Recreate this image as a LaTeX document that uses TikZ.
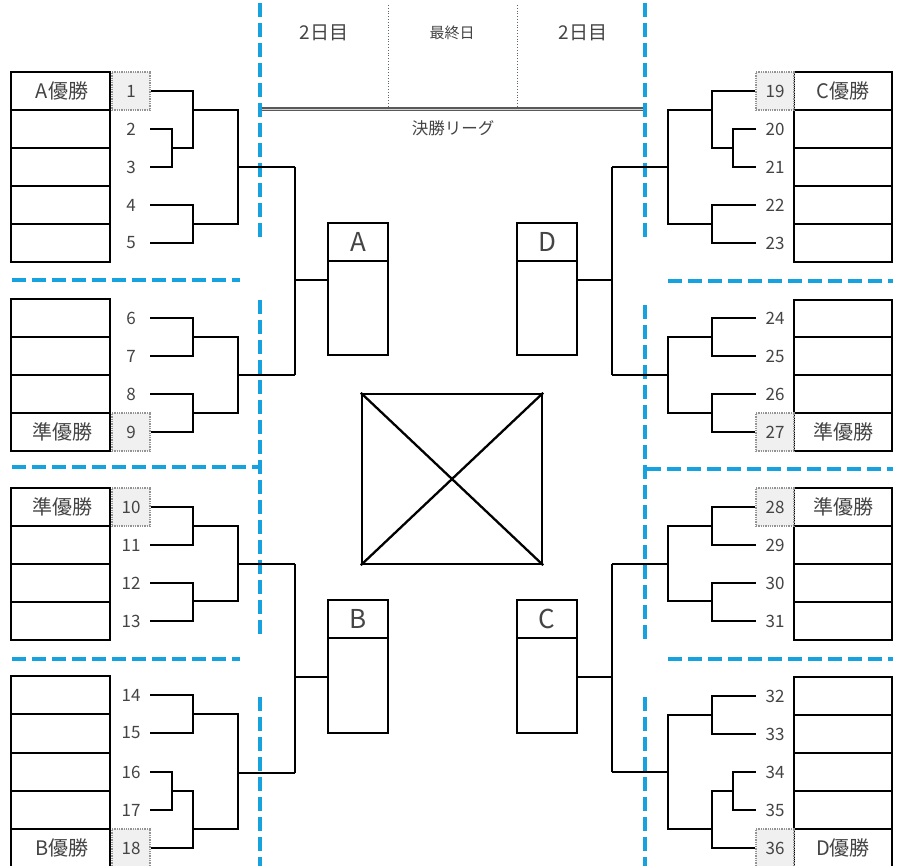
\documentclass[tikz,border=0pt]{standalone}
\usepackage{fontspec}
\setmainfont{Noto Sans CJK JP}
\definecolor{txt}{HTML}{444444}
\definecolor{bdash}{RGB}{22,162,222}
\begin{document}
\begin{tikzpicture}[x=1pt,y=-1pt,
  ln/.style={line width=2.3pt, black},
  nm/.style={minimum width=38pt, minimum height=38pt, inner sep=0pt, font=\fontsize{17}{17}\selectfont, text=txt},
  numshade/.style={nm, fill=gray!12, draw=gray!85, densely dotted, line width=1.3pt},
  lab/.style={font=\fontsize{20}{20}\selectfont, text=txt, inner sep=0pt},
  letter/.style={font=\fontsize{26}{26}\selectfont, text=txt, inner sep=0pt},
  hdr/.style={font=\fontsize{19}{19}\selectfont, text=txt, inner sep=0pt},
  bd/.style={bdash, line width=3.6pt, dash pattern=on 14pt off 6pt},
  grp/.style={ln, draw, minimum width=60pt, inner sep=0pt}
]
\useasboundingbox (0,0) rectangle (901,866);
\fill[white] (0,0) rectangle (901,866);

% ---------- header ----------
\draw[gray!60!cyan!50!black, line width=0.8pt, dotted] (388,5) -- (388,108);
\draw[gray!60!cyan!50!black, line width=0.8pt, dotted] (517,5) -- (517,108);
\draw[draw=gray!70!black, double=gray!35, double distance=1.2pt, line width=1.4pt] (260,109.5) -- (645,109.5);
\node[hdr] (h1) at (324,33) {2日目};
\node[hdr, font=\fontsize{15}{15}\selectfont] (h2) at (452,33) {最終日};
\node[hdr] (h3) at (583,33) {2日目};
\node[hdr, font=\fontsize{16.5}{16.5}\selectfont] (h4) at (453,128) {決勝リーグ};

% ---------- blue dashed separators ----------
\draw[bd] (260,3) -- (260,242);
\draw[bd] (260,300) -- (260,640);
\draw[bd] (260,697) -- (260,866);
\draw[bd] (12,280) -- (240,280);
\draw[bd] (12,467) -- (258,467);
\draw[bd] (12,659) -- (240,659);
\draw[bd] (645,3) -- (645,242);
\draw[bd] (645,305) -- (645,640);
\draw[bd] (645,697) -- (645,866);
\draw[bd] (668,281) -- (893,281);
\draw[bd] (647,469) -- (893,469);
\draw[bd] (668,659) -- (893,659);

% ---------- name boxes ----------
\foreach \t/\b/\ls in {72/262/{110,148,186,224}, 299/451/{337,375,413}, 488/640/{526,564,602}, 676/868/{714,753,791,829}}{
  \draw[ln] (11,\t) rectangle (110,\b);
  \foreach \l in \ls { \draw[ln] (11,\l) -- (110,\l); }
}
\foreach \t/\b/\ls in {72/262/{110,148,186,224}, 300/451/{337,375,413}, 488/640/{526,564,602}, 677/868/{715,753,791,829}}{
  \draw[ln] (794,\t) rectangle (892,\b);
  \foreach \l in \ls { \draw[ln] (794,\l) -- (892,\l); }
}
\node[lab] (la) at (62,91) {A優勝};
\node[lab] (lj1) at (62,432) {準優勝};
\node[lab] (lj2) at (62,507) {準優勝};
\node[lab] (lb) at (62,848) {B優勝};
\node[lab] (lc) at (843,91) {C優勝};
\node[lab] (lj3) at (843,432) {準優勝};
\node[lab] (lj4) at (843,507) {準優勝};
\node[lab] (ld) at (843,848) {D優勝};

% ---------- number nodes ----------
\foreach \n/\y in {2/129,3/167,4/205,5/243,6/318,7/356,8/394,11/545,12/583,13/621,14/695,15/733,16/772,17/810}
  \node[nm] (n\n) at (131,\y) {\n};
\foreach \n/\y in {1/91,9/432,10/507,18/848}
  \node[numshade] (n\n) at (131,\y) {\textcolor{txt}{\n}};
\foreach \n/\y in {20/129,21/167,22/205,23/243,24/318,25/356,26/394,29/545,30/583,31/621,32/696,33/734,34/772,35/810}
  \node[nm] (n\n) at (775,\y) {\n};
\foreach \n/\y in {19/91,27/432,28/507,36/848}
  \node[numshade] (n\n) at (775,\y) {\textcolor{txt}{\n}};

% ---------- left brackets ----------
\draw[ln] (n2.east) -| (172,148) |- (n3.east);
\draw[ln] (n1.east) -| (193,148) -- (172,148);
\draw[ln] (n4.east) -| (193,224) |- (n5.east);
\draw[ln] (193,110) -| (238,167) |- (193,224);
\draw[ln] (238,167) -- (295,167);
\draw[ln] (n6.east) -| (193,337) |- (n7.east);
\draw[ln] (n8.east) -| (193,413) |- (n9.east);
\draw[ln] (193,337) -| (238,375) |- (193,413);
\draw[ln] (238,375) -- (295,375);
\draw[ln] (n10.east) -| (193,526) |- (n11.east);
\draw[ln] (n12.east) -| (193,601) |- (n13.east);
\draw[ln] (193,526) -| (238,564) |- (193,601);
\draw[ln] (238,564) -- (295,564);
\draw[ln] (n14.east) -| (193,714) |- (n15.east);
\draw[ln] (n16.east) -| (172,791) |- (n17.east);
\draw[ln] (n18.east) -| (193,791) -- (172,791);
\draw[ln] (193,714) -| (238,773) |- (193,829);
\draw[ln] (238,773) -- (295,773);

% ---------- right brackets ----------
\draw[ln] (n20.west) -| (733,148) |- (n21.west);
\draw[ln] (n19.west) -| (712,148) -- (733,148);
\draw[ln] (n22.west) -| (712,224) |- (n23.west);
\draw[ln] (712,110) -| (668,167) |- (712,224);
\draw[ln] (668,167) -- (612,167);
\draw[ln] (n24.west) -| (712,337) |- (n25.west);
\draw[ln] (n26.west) -| (712,413) |- (n27.west);
\draw[ln] (712,337) -| (668,375) |- (712,413);
\draw[ln] (668,375) -- (612,375);
\draw[ln] (n28.west) -| (712,526) |- (n29.west);
\draw[ln] (n30.west) -| (712,601) |- (n31.west);
\draw[ln] (712,526) -| (668,564) |- (712,601);
\draw[ln] (668,564) -- (612,564);
\draw[ln] (n32.west) -| (712,715) |- (n33.west);
\draw[ln] (n34.west) -| (733,791) |- (n35.west);
\draw[ln] (n36.west) -| (712,791) -- (733,791);
\draw[ln] (712,715) -| (668,772) |- (712,829);
\draw[ln] (668,772) -- (612,772);

% ---------- group boxes ----------
\node[grp, minimum height=132pt] (A) at (358,289) {};
\node[grp, minimum height=132pt] (D) at (547,289) {};
\node[grp, minimum height=133pt] (B) at (358,666.5) {};
\node[grp, minimum height=133pt] (C) at (547,666.5) {};
\draw[ln] (A.west |- 0,261) -- (A.east |- 0,261);
\draw[ln] (D.west |- 0,261) -- (D.east |- 0,261);
\draw[ln] (B.west |- 0,638) -- (B.east |- 0,638);
\draw[ln] (C.west |- 0,638) -- (C.east |- 0,638);
\node[letter] (Al) at (358,242) {A};
\node[letter] (Dl) at (547,242) {D};
\node[letter] (Bl) at (358,619) {B};
\node[letter] (Cl) at (547,619) {C};

\draw[ln] (295,167) -- (295,375);
\draw[ln] (295,280) -- (A.west |- 0,280);
\draw[ln] (295,564) -- (295,773);
\draw[ln] (295,677) -- (B.west |- 0,677);
\draw[ln] (612,167) -- (612,375);
\draw[ln] (612,280) -- (D.east |- 0,280);
\draw[ln] (612,564) -- (612,772);
\draw[ln] (612,677) -- (C.east |- 0,677);

% ---------- crossed box ----------
\node[ln, draw, minimum width=180pt, minimum height=170pt, inner sep=0pt] (X) at (452,479) {};
\draw[ln] (X.north west) -- (X.south east);
\draw[ln] (X.north east) -- (X.south west);
\end{tikzpicture}
\end{document}
